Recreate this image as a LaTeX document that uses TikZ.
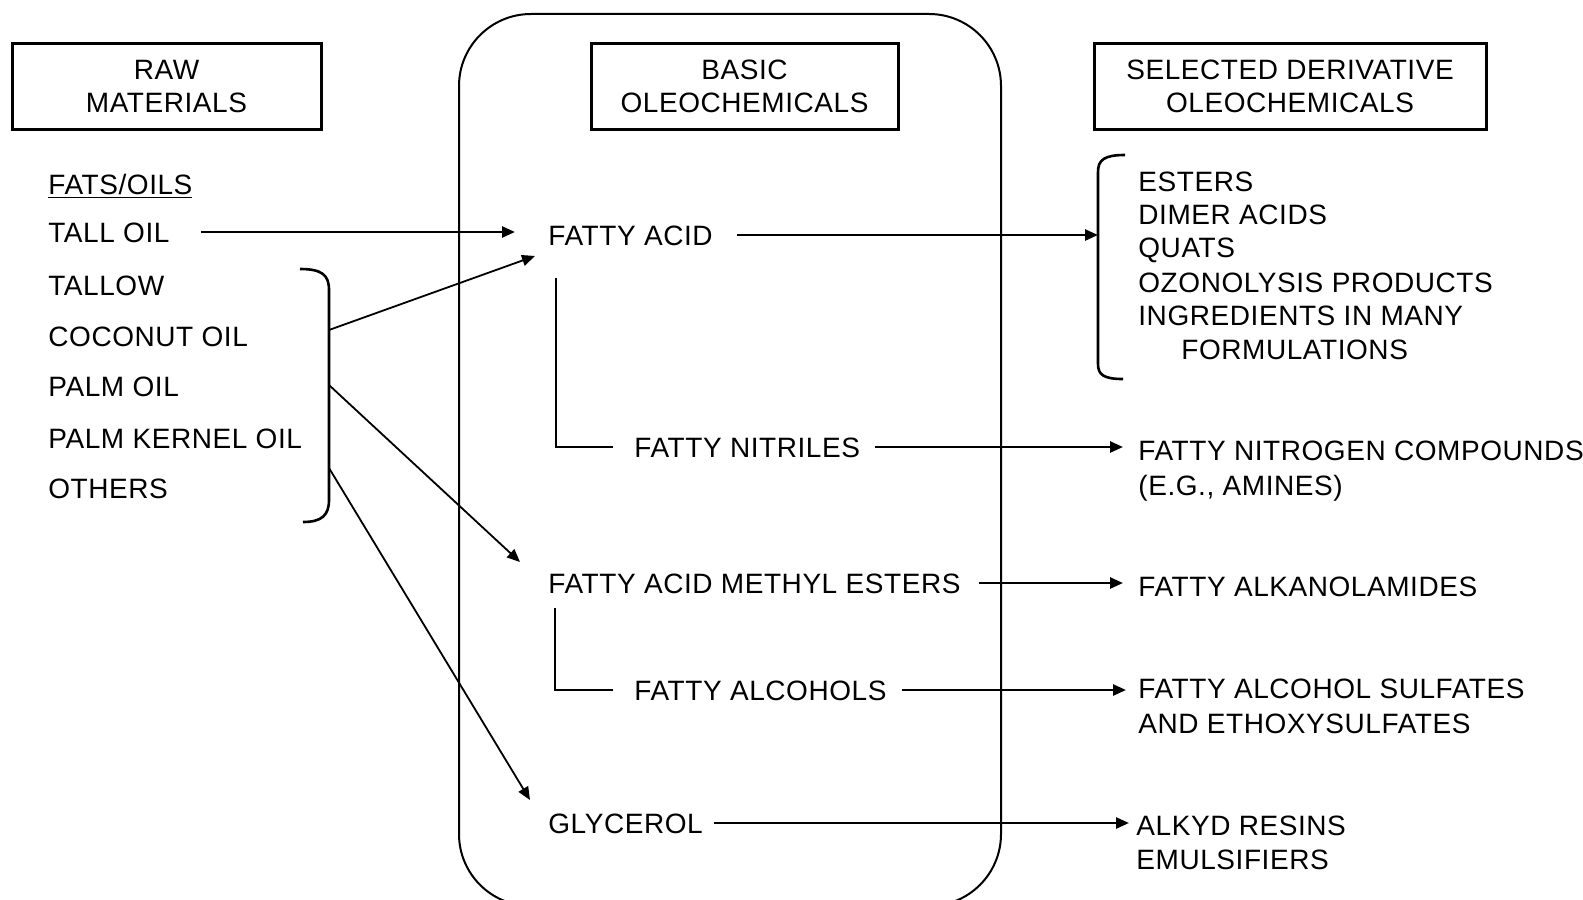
\documentclass[tikz,border=0pt]{standalone}
\usepackage{fontspec}
\setmainfont[LetterSpace=2]{Liberation Sans}
\usetikzlibrary{arrows.meta,calc}
\tikzset{
  txt/.style={
    anchor=west,
    inner sep=0pt,
    text height=10pt,
    text depth=0pt,
    font=\fontsize{14}{16.5}\selectfont
  },
  hdr/.style={
    draw,
    line width=1.5pt,
    align=center,
    inner sep=0pt,
    minimum height=42.5pt,
    font=\fontsize{14}{16.5}\selectfont
  },
  conn/.style={line width=1.3pt},
  frame/.style={line width=1pt},
  arr/.style={line width=1.3pt,-{Triangle[length=6.5pt,width=5.5pt]}},
  feed/.style={line width=0.9pt,-{Triangle[length=6.5pt,width=5.5pt]}}
}

\begin{document}
\begin{tikzpicture}[x=0.5pt,y=-0.5pt]
    \path[use as bounding box,clip] (0,0) rectangle (1583,899);
    \node[hdr,minimum width=154.5pt] (rawhd) at (166.5,86.5) {RAW\\MATERIALS};
    \node[hdr,minimum width=153.5pt] (basichd) at (744.5,86.5) {BASIC\\OLEOCHEMICALS};
    \node[hdr,minimum width=196pt] (derivhd) at (1290,86.5) {SELECTED DERIVATIVE\\OLEOCHEMICALS};
    \draw[frame,rounded corners=36pt] (459,14) rectangle (1001,906);

    \node[txt] (fats) at (48,184) {\underline{FATS/OILS}};
    \node[txt] (tall) at (48,232) {TALL OIL};
    \node[txt] (tallow) at (48,285) {TALLOW};
    \node[txt] (coco) at (48,336) {COCONUT OIL};
    \node[txt] (palm) at (48,386) {PALM OIL};
    \node[txt] (kernel) at (48,438) {PALM KERNEL OIL};
    \node[txt] (others) at (48,488) {OTHERS};

    \node[txt] (facid) at (548,235) {FATTY ACID};
    \node[txt] (nitr) at (634,447) {FATTY NITRILES};
    \node[txt] (fame) at (548,583) {FATTY ACID METHYL ESTERS};
    \node[txt] (alc) at (634,690) {FATTY ALCOHOLS};
    \node[txt] (glyc) at (548,823) {GLYCEROL};

    \node[txt] (esters) at (1138,181) {ESTERS};
    \node[txt] (dimer) at (1138,214) {DIMER ACIDS};
    \node[txt] (quats) at (1138,247) {QUATS};
    \node[txt] (ozono) at (1138,282) {OZONOLYSIS PRODUCTS};
    \node[txt] (ingr) at (1138,315) {INGREDIENTS IN MANY};
    \node[txt] (formul) at (1181,349) {FORMULATIONS};
    \node[txt] (nitro) at (1138,450) {FATTY NITROGEN COMPOUNDS};
    \node[txt] (amines) at (1138,485) {(E.G., AMINES)};
    \node[txt] (alkan) at (1138,586) {FATTY ALKANOLAMIDES};
    \node[txt] (sulf) at (1138,688) {FATTY ALCOHOL SULFATES};
    \node[txt] (ethoxy) at (1138,723) {AND ETHOXYSULFATES};
    \node[txt] (alkyd) at (1136,825) {ALKYD RESINS};
    \node[txt] (emuls) at (1136,859) {EMULSIFIERS};

    % brackets
    \draw[conn] (300,269) .. controls (322,269) and (329,275) .. (329,290)
        -- (329,500) .. controls (329,515) and (322,522) .. (303,522);
    \draw[conn] (1125,155) .. controls (1104,155) and (1098,160) .. (1098,172)
        -- (1098,364) .. controls (1098,375) and (1104,379) .. (1123,379);
    \coordinate (fromfa) at (329,330);
    \coordinate (fromme) at (329,385);
    \coordinate (fromgl) at (329,468);
    \coordinate (todv) at (1098,235);

    \draw[arr] ($(tall.east)+(31,0)$) -- ($(tall.east -| facid.west)+(-33,0)$);
    \draw[feed] (fromfa) -- ($(facid.west)+(-13,21)$);
    \draw[feed] (fromme) -- ($(fame.west)+(-28,-21)$);
    \draw[feed] (fromgl) -- ($(glyc.west)+(-18,-23)$);

    \draw[conn] ($(facid.west)+(8,43)$) |- ($(nitr.west)+(-21,0)$);
    \draw[conn] ($(fame.west)+(7,25)$) |- ($(alc.west)+(-21,0)$);

    \draw[arr] ($(facid.east)+(24,0)$) -- (todv);
    \draw[arr] ($(nitr.east)+(15,0)$) -- ($(nitr.east -| nitro.west)+(-15,0)$);
    \draw[arr] ($(fame.east)+(18,0)$) -- ($(fame.east -| alkan.west)+(-15,0)$);
    \draw[arr] ($(alc.east)+(15,0)$) -- ($(alc.east -| sulf.west)+(-12,0)$);
    \draw[arr] ($(glyc.east)+(11,0)$) -- ($(glyc.east -| alkyd.west)+(-7,0)$);
\end{tikzpicture}
\end{document}
